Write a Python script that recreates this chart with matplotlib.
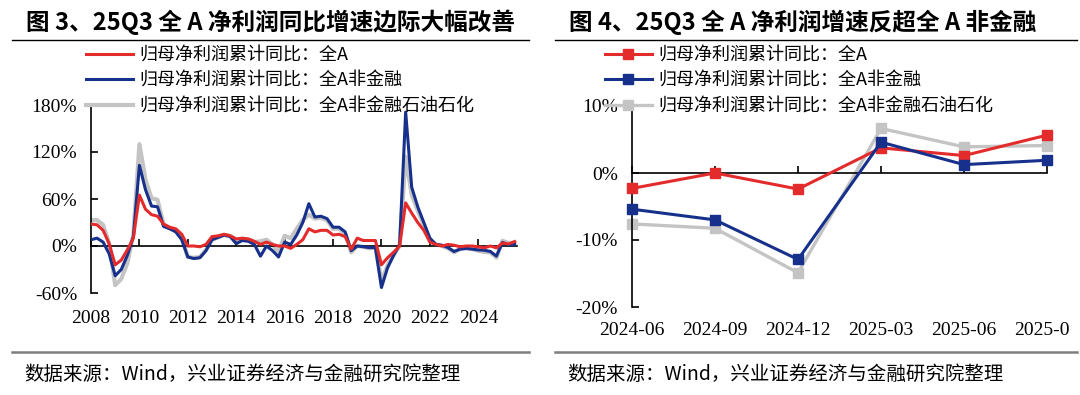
import matplotlib
matplotlib.use("Agg")
import matplotlib.pyplot as plt
import pandas as pd
from matplotlib.lines import Line2D
from matplotlib.ticker import PercentFormatter
from matplotlib.transforms import Bbox, TransformedBbox

plt.rcParams["font.family"] = ["Liberation Serif"]
plt.rcParams["axes.unicode_minus"] = False
plt.rcParams["lines.solid_joinstyle"] = "round"
CJK = ["Noto Sans CJK SC", "DejaVu Sans"]

RED = "#E32B2B"
BLUE = "#16308C"
GRAY = "#C4C4C4"

LABELS = ["归母净利润累计同比：全A",
          "归母净利润累计同比：全A非金融",
          "归母净利润累计同比：全A非金融石油石化"]

# quarterly cumulative YoY (%), 2008Q1 .. 2025Q3
periods = pd.period_range("2008Q1", "2025Q3", freq="Q")
all_a = [28, 27, 20, 3, -24, -18, -5, 10, 65, 47, 40, 38, 28, 24, 22, 15,
         0, 0, -1, 2, 12, 13, 15, 13, 9, 10, 9, 6, 2, 5, 2, 0,
         0, -3, 2, 8, 22, 18, 20, 20, 14, 15, 12, -4, 10, 7, 7, 7,
         -24, -15, -8, 0, 55, 42, 30, 20, 5, 2, 0, 2, 1, -1, 0, 0,
         -1, -2.3, 0, -2.4, 3.75, 2.6, 5.65]
non_fin = [8, 10, 5, -10, -38, -30, -12, 12, 103, 72, 51, 50, 25, 22, 18, 8,
           -14, -16, -15, -6, 8, 11, 14, 12, 3, 7, 6, 2, -13, 0, -6, -14,
           5, 2, 14, 30, 54, 37, 38, 35, 24, 24, 18, -6, 0, -1, -2, -2,
           -53, -28, -12, 2, 171, 75, 50, 30, 10, 2, 1, -2, -7, -4, -3, -4,
           -5, -5.4, -7.0, -12.9, 4.6, 1.25, 1.9]
non_fin_oil = [33, 33, 27, 3, -50, -42, -22, 15, 130, 85, 61, 59, 27, 23, 20, 10,
               -14, -15, -14, -5, 8, 11, 14, 13, 8, 8, 8, 5, 6, 8, 2, -8,
               13, 10, 22, 33, 40, 35, 36, 33, 22, 22, 16, -8, 0, -1, -3, -2,
               -45, -25, -12, 0, 114, 65, 45, 27, 8, 2, 0, -3, -8, -4, -3, -4,
               -6, -7.6, -8.25, -14.9, 6.65, 3.9, 4.1]

year_ticks = list(range(2008, 2025, 2))
recent_labels = ["2024-06", "2024-09", "2024-12", "2025-03", "2025-06", "2025-09"]

W, H = 1080, 395


def fx(px):
    return px / W


def fy(py):
    return 1 - py / H


def style_axes(ax, xpad):
    ax.spines[["top", "right"]].set_visible(False)
    ax.spines["bottom"].set_position(("data", 0))
    for s in ("left", "bottom"):
        ax.spines[s].set_linewidth(1.2)
    ax.tick_params(direction="in", length=5, width=1.2, labelsize=14, pad=10)
    ax.tick_params(axis="x", pad=xpad)
    ax.yaxis.set_major_formatter(PercentFormatter(decimals=0))


fig = plt.figure(figsize=(10.8, 3.95), dpi=100)

# ---- 图3: long history
ax1 = fig.add_axes([fx(91), fy(293), fx(517) - fx(91), (293 - 105) / H])
x = [p.year + (p.quarter - 1) / 4 for p in periods]
g1, = ax1.plot(x, non_fin_oil, color=GRAY, lw=3.0, zorder=2)
b1, = ax1.plot(x, non_fin, color=BLUE, lw=2.2, zorder=3)
r1, = ax1.plot(x, all_a, color=RED, lw=2.2, zorder=4)
ax1.set_xlim(2008, 2025.6)
ax1.set_ylim(-60, 180)
ax1.set_yticks([-60, 0, 60, 120, 180])
ax1.set_xticks(year_ticks)
ax1.set_xticklabels([str(y) for y in year_ticks])
style_axes(ax1, 46)

leg_kw = dict(loc="upper left", frameon=False, prop={"family": CJK, "size": 13},
              handlelength=2.6, handletextpad=0.35, labelspacing=0.42,
              borderpad=0, borderaxespad=0)
fig.legend([r1, b1, g1], LABELS, bbox_to_anchor=(fx(86), fy(46)), **leg_kw)

# ---- 图4: last six quarters
ax2 = fig.add_axes([fx(632), fy(307), (1047 - 632) / W, (307 - 106) / H])
idx = range(len(recent_labels))
mk = dict(marker="s", markersize=7, clip_on=False)
g2, = ax2.plot(idx, non_fin_oil[-6:], color=GRAY, lw=2.4, zorder=2, **mk)
r2, = ax2.plot(idx, all_a[-6:], color=RED, lw=2.2, zorder=3, **mk)
b2, = ax2.plot(idx, non_fin[-6:], color=BLUE, lw=2.2, zorder=4, **mk)
ax2.set_xlim(0, 5)
ax2.set_ylim(-20, 10)
ax2.set_yticks([-20, -10, 0, 10])
ax2.set_xticks(list(idx))
ax2.set_xticklabels(recent_labels)
style_axes(ax2, 107)
last = ax2.get_xticklabels()[-1]
last.set_clip_box(TransformedBbox(Bbox([[0, 0], [fx(1069), 1]]), fig.transFigure))
last.set_clip_on(True)

fig.legend([r2, b2, g2], LABELS, bbox_to_anchor=(fx(605), fy(46)), **leg_kw)

# ---- titles, rules, sources
titles = ["图 3、25Q3 全 A 净利润同比增速边际大幅改善", "图 4、25Q3 全 A 净利润增速反超全 A 非金融"]
source = "数据来源：Wind，兴业证券经济与金融研究院整理"
for title, left, right, tx in [(titles[0], 12, 529, 26), (titles[1], 555, 1077, 569)]:
    fig.text(fx(tx), fy(22), title, fontsize=17, weight="bold", family=CJK, va="center")
    fig.add_artist(Line2D([fx(left), fx(right)], [fy(40), fy(40)], color="black", lw=1.0))
    fig.add_artist(Line2D([fx(left), fx(right)], [fy(352), fy(352)], color="#7F7F7F", lw=1.8))
    fig.text(fx(tx - 2), fy(374), source, fontsize=14, family=CJK, va="center")

fig.savefig("out.png", dpi=100)
